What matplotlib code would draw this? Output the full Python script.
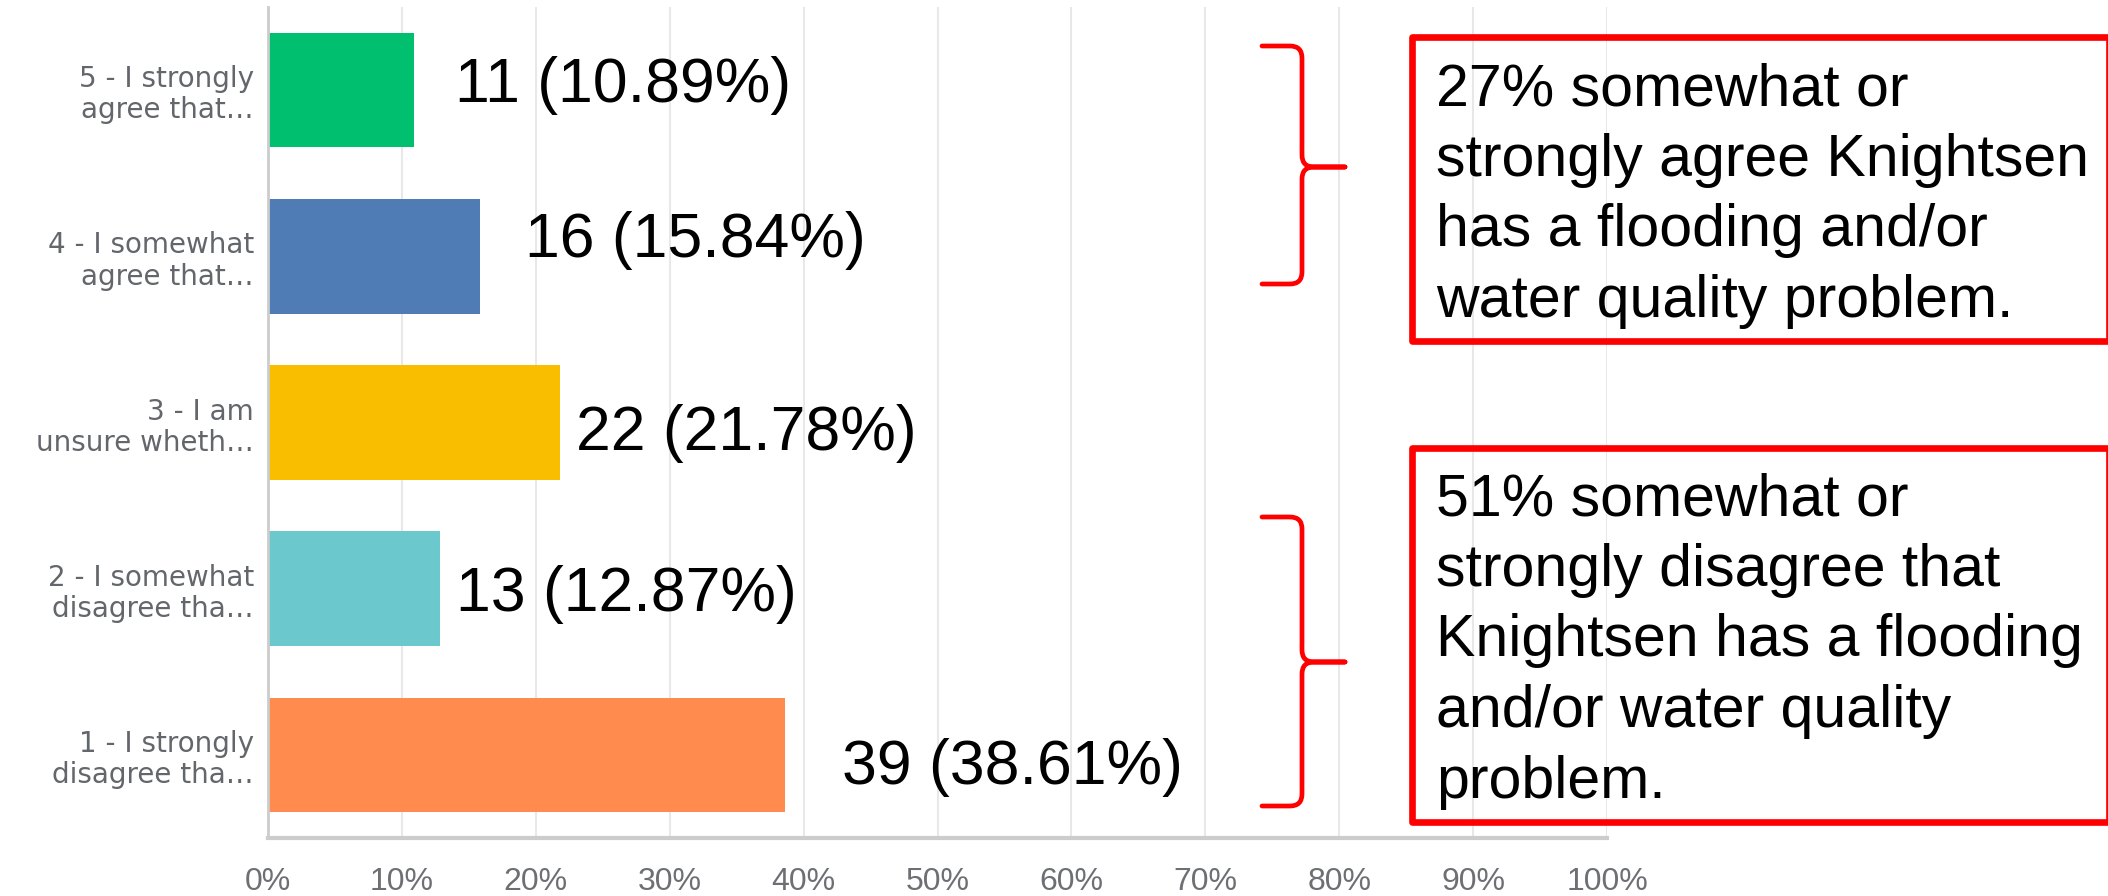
import matplotlib
matplotlib.use("Agg")
import matplotlib.pyplot as plt
import matplotlib.transforms as mtransforms
from matplotlib.path import Path
from matplotlib.patches import PathPatch, Rectangle
import numpy as np

# данные опроса (сверху вниз)
categories = ["5 - I strongly\nagree that…", "4 - I somewhat\nagree that…",
              "3 - I am\nunsure wheth…", "2 - I somewhat\ndisagree tha…",
              "1 - I strongly\ndisagree tha…"]
counts = [11, 16, 22, 13, 39]
percents = [10.89, 15.84, 21.78, 12.87, 38.61]
bar_colors = ["#00BF6F", "#507CB6", "#F9BE00", "#6BC8CD", "#FF8B4F"]
x_ticks = list(range(0, 101, 10))

top_note = ["27% somewhat or", "strongly agree Knightsen",
            "has a flooding and/or", "water quality problem."]
bottom_note = ["51% somewhat or", "strongly disagree that",
               "Knightsen has a flooding", "and/or water quality", "problem."]

# ручные сдвиги подписей (в пунктах), как на исходном слайде
label_dx = [30, 32, 11.5, 11, 41]
label_dy = [-8.3, -0.4, -20, -16, -21]

W, H = 2108, 896
fig = plt.figure(figsize=(W / 100, H / 100), dpi=100)
# пиксели от левого верхнего угла -> координаты фигуры
px = mtransforms.Affine2D().scale(1 / W, -1 / H).translate(0, 1) + fig.transFigure

ax = fig.add_axes([268 / W, 1 - 838 / H, (1607 - 268) / W, (838 - 7) / H])
y = np.arange(len(categories))
ax.barh(y, percents, height=0.69, color=bar_colors, zorder=2)
ax.set_xlim(0, 100)
ax.set_ylim(len(categories) - 0.5, -0.5)

ax.set_xticks(x_ticks)
ax.set_xticklabels([f"{v}%" for v in x_ticks], fontsize=23,
                   family="Liberation Sans", color="#6d6f73")
ax.set_yticks(y)
ax.set_yticklabels(categories, fontsize=20, family="DejaVu Sans",
                   color="#63666b", linespacing=1.15)
ax.tick_params(axis="x", length=0, pad=21)
ax.tick_params(axis="y", length=0, pad=10)
ax.grid(axis="x", color="#e8e8e8", linewidth=1.5, zorder=0)
ax.set_axisbelow(True)
for s in ("top", "right"):
    ax.spines[s].set_visible(False)
ax.spines["left"].set_color("#cccccc")
ax.spines["left"].set_linewidth(2)
ax.spines["bottom"].set_color("#cccccc")
ax.spines["bottom"].set_linewidth(3)

for i, (c, p) in enumerate(zip(counts, percents)):
    ax.annotate(f"{c} ({p:.2f}%)", xy=(p, i), xytext=(label_dx[i], label_dy[i]),
                textcoords="offset points", va="baseline", ha="left",
                fontsize=45, family="Liberation Sans", color="black")


def brace(top, tip, bottom, x0=1262, xv=1302, xt=1345, r=12):
    verts = [(x0, top), (xv - r, top), (xv, top), (xv, top + r),
             (xv, tip - r), (xv, tip), (xv + r, tip), (xt, tip),
             (xt, tip), (xv + r, tip), (xv, tip), (xv, tip + r),
             (xv, bottom - r), (xv, bottom), (xv - r, bottom), (x0, bottom)]
    codes = [Path.MOVETO, Path.LINETO, Path.CURVE3, Path.CURVE3,
             Path.LINETO, Path.CURVE3, Path.CURVE3, Path.LINETO,
             Path.MOVETO, Path.LINETO, Path.CURVE3, Path.CURVE3,
             Path.LINETO, Path.CURVE3, Path.CURVE3, Path.LINETO]
    fig.add_artist(PathPatch(Path(verts, codes), transform=px, fill=False,
                             edgecolor="#ff0000", linewidth=3.4,
                             capstyle="round", joinstyle="round"))


brace(46, 167, 284)
brace(517, 662, 806)

for (y0, y1) in [(37, 341), (448, 822)]:
    fig.add_artist(Rectangle((1412, y0), 2109 - 1412, y1 - y0, transform=px,
                             fill=False, edgecolor="#ff0000", linewidth=4.8,
                             joinstyle="round"))

for lines, base in [(top_note, 105), (bottom_note, 515)]:
    for k, line in enumerate(lines):
        fig.text(1436, base + k * 70.7, line, transform=px, va="baseline",
                 ha="left", fontsize=42.5, family="Liberation Sans", color="black")

fig.savefig("out.png", dpi=100, facecolor="white")
